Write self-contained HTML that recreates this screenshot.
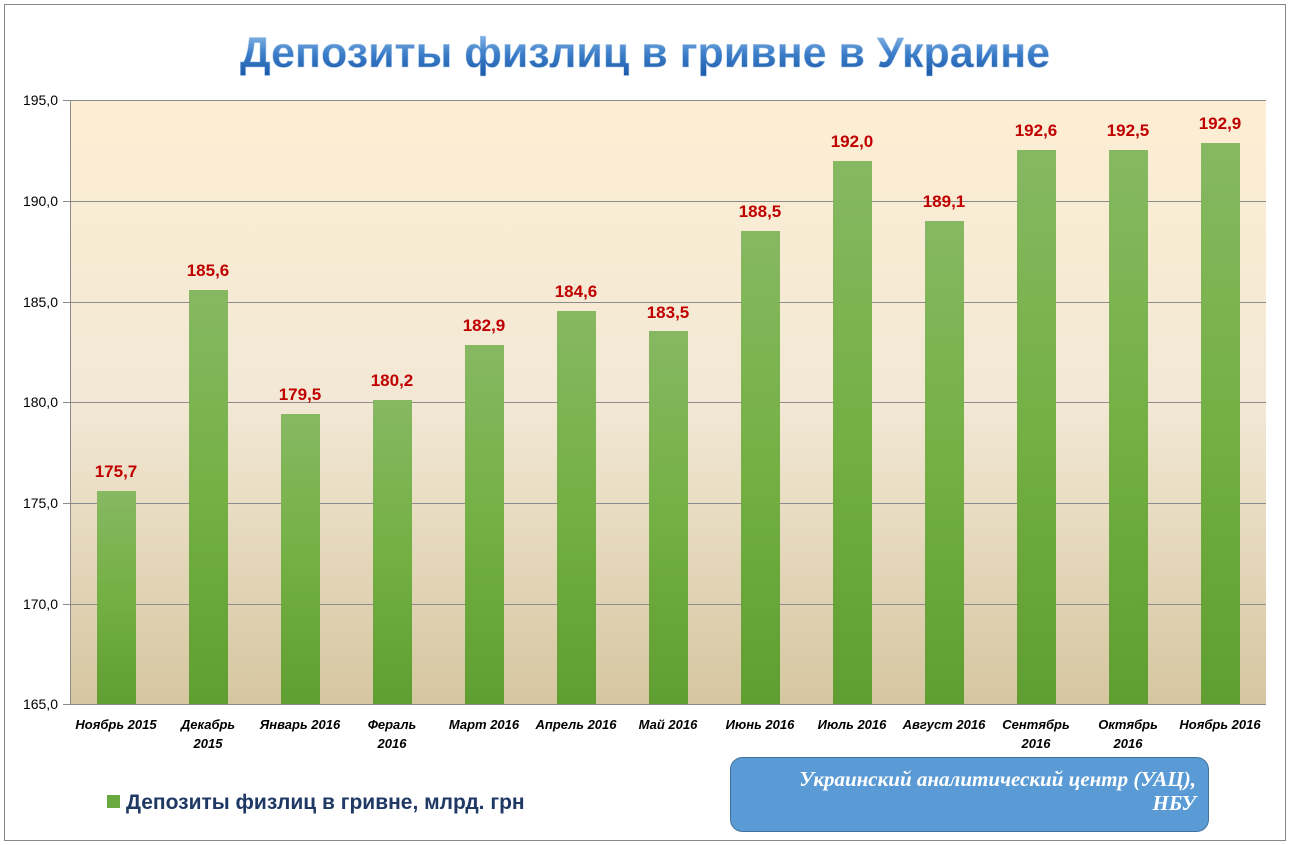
<!DOCTYPE html>
<html><head><meta charset="utf-8"><style>
html,body{margin:0;padding:0;background:#fff;}
svg{display:block;font-family:"Liberation Sans","DejaVu Sans",sans-serif;}
</style></head><body>
<svg width="1290" height="845" viewBox="0 0 1290 845" xmlns="http://www.w3.org/2000/svg">
<defs>
<linearGradient id="bg" x1="0" y1="0" x2="0" y2="1">
<stop offset="0" stop-color="#fdeed3"/><stop offset="0.5" stop-color="#f2e8d5"/><stop offset="1" stop-color="#d6c6a0"/>
</linearGradient>
<linearGradient id="bar" x1="0" y1="0" x2="0" y2="1">
<stop offset="0" stop-color="#86b862"/><stop offset="0.5" stop-color="#74b044"/><stop offset="1" stop-color="#5f9e31"/>
</linearGradient>
<linearGradient id="tt" x1="0" y1="0" x2="0" y2="1">
<stop offset="0" stop-color="#9cc6ee"/><stop offset="0.5" stop-color="#3d7fc9"/><stop offset="1" stop-color="#1a58a8"/>
</linearGradient>
</defs>
<rect x="4.5" y="4.5" width="1281" height="836" fill="#fff" stroke="#888"/>
<text x="645" y="67" text-anchor="middle" font-size="43" font-weight="bold" fill="url(#tt)" stroke="#a8c8ea" stroke-width="0.5">Депозиты физлиц в гривне в Украине</text>
<rect x="70" y="100" width="1196" height="604" fill="url(#bg)"/>
<g stroke="#8c8c8c" stroke-width="1">
<line x1="63" y1="100.5" x2="1266" y2="100.5"/><line x1="63" y1="201.5" x2="1266" y2="201.5"/>
<line x1="63" y1="302.5" x2="1266" y2="302.5"/><line x1="63" y1="402.5" x2="1266" y2="402.5"/>
<line x1="63" y1="503.5" x2="1266" y2="503.5"/><line x1="63" y1="604.5" x2="1266" y2="604.5"/>
<line x1="63" y1="704.5" x2="1266" y2="704.5"/><line x1="70.5" y1="100" x2="70.5" y2="704"/>
</g>
<g font-size="14" fill="#000" text-anchor="end">
<text x="58" y="105">195,0</text><text x="58" y="206">190,0</text><text x="58" y="307">185,0</text>
<text x="58" y="407">180,0</text><text x="58" y="508">175,0</text><text x="58" y="609">170,0</text><text x="58" y="709">165,0</text>
</g>
<g fill="url(#bar)">
<rect x="97" y="491" width="39" height="213"/>
<rect x="189" y="290" width="39" height="414"/>
<rect x="281" y="414" width="39" height="290"/>
<rect x="373" y="400" width="39" height="304"/>
<rect x="465" y="345" width="39" height="359"/>
<rect x="557" y="311" width="39" height="393"/>
<rect x="649" y="331" width="39" height="373"/>
<rect x="741" y="231" width="39" height="473"/>
<rect x="833" y="161" width="39" height="543"/>
<rect x="925" y="221" width="39" height="483"/>
<rect x="1017" y="150" width="39" height="554"/>
<rect x="1109" y="150" width="39" height="554"/>
<rect x="1201" y="143" width="39" height="561"/>
</g>
<g font-size="17" font-weight="bold" fill="#c00000" text-anchor="middle">
<text x="116" y="477">175,7</text><text x="208" y="276">185,6</text><text x="300" y="400">179,5</text>
<text x="392" y="386">180,2</text><text x="484" y="331">182,9</text><text x="576" y="297">184,6</text>
<text x="668" y="318">183,5</text><text x="760" y="217">188,5</text><text x="852" y="147">192,0</text>
<text x="944" y="207">189,1</text><text x="1036" y="136">192,6</text><text x="1128" y="136">192,5</text>
<text x="1220" y="129">192,9</text>
</g>
<g font-size="13" font-weight="bold" font-style="italic" fill="#000" text-anchor="middle">
<text x="116" y="729">Ноябрь 2015</text>
<text x="208" y="729">Декабрь</text><text x="208" y="748">2015</text>
<text x="300" y="729">Январь 2016</text>
<text x="392" y="729">Фераль</text><text x="392" y="748">2016</text>
<text x="484" y="729">Март 2016</text><text x="576" y="729">Апрель 2016</text>
<text x="668" y="729">Май 2016</text><text x="760" y="729">Июнь 2016</text>
<text x="852" y="729">Июль 2016</text><text x="944" y="729">Август 2016</text>
<text x="1036" y="729">Сентябрь</text><text x="1036" y="748">2016</text>
<text x="1128" y="729">Октябрь</text><text x="1128" y="748">2016</text>
<text x="1220" y="729">Ноябрь 2016</text>
</g>
<rect x="107" y="795" width="13" height="13" fill="#6aa840"/>
<text x="126" y="809" font-size="21" font-weight="bold" fill="#1f3864">Депозиты физлиц в гривне, млрд. грн</text>
<rect x="730.5" y="757.5" width="478" height="74" rx="12" fill="#5b9bd5" stroke="#41719c"/>
<g font-family="Liberation Serif,serif" font-size="21" font-weight="bold" font-style="italic" fill="#fff" text-anchor="end">
<text x="1196" y="786">Украинский аналитический центр (УАЦ),</text>
<text x="1196" y="810">НБУ</text>
</g>
</svg>
</body></html>
